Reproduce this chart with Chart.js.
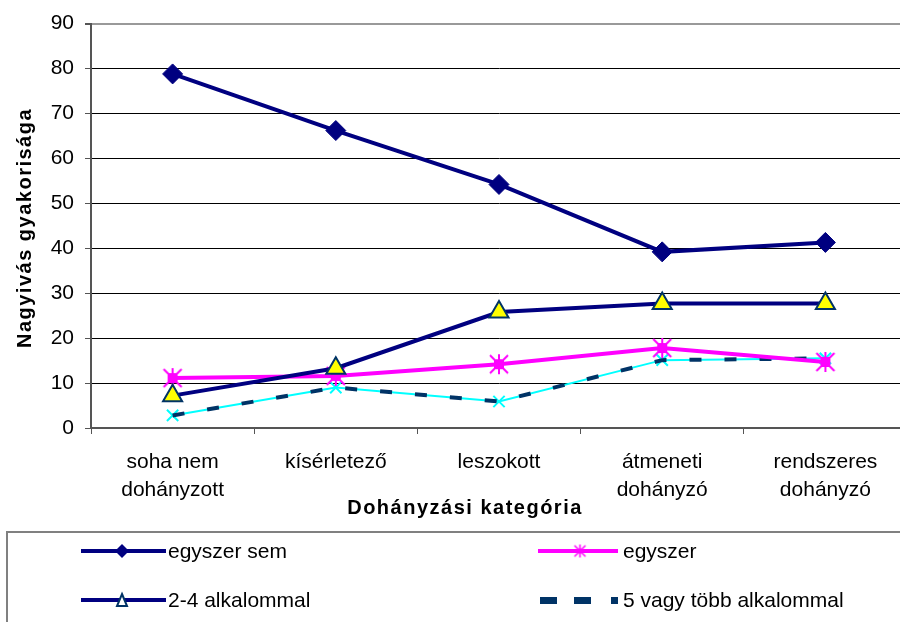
<!DOCTYPE html>
<html>
<head>
<meta charset="utf-8">
<script src="https://cdn.jsdelivr.net/npm/chart.js@4"></script>
<style>
    body { margin: 0; overflow: hidden; background: #fff; }
    #wrap { width: 920px; height: 622px; }
</style>
</head>
<body>
<div id="wrap"><canvas id="chart" width="920" height="622"></canvas></div>
<script>
// DATA
const categories = [['soha nem', 'dohányzott'], 'kísérletező', 'leszokott', ['átmeneti', 'dohányzó'], ['rendszeres', 'dohányzó']];
const seriesNames = ['egyszer sem', 'egyszer', '2-4 alkalommal', '5 vagy több alkalommal'];
const egyszerSem = [78.8, 66.2, 54.2, 39.2, 41.3];
const egyszer = [11.1, 11.6, 14.2, 17.8, 14.7];
const ketNegyAlk = [7.2, 13.3, 25.8, 27.7, 27.7];
const otVagyTobb = [2.8, 9.0, 5.9, 15.1, 15.5];
const yTicks = [0, 10, 20, 30, 40, 50, 60, 70, 80, 90];
const xTitle = 'Dohányzási kategória';
const yTitle = 'Nagyivás gyakorisága';

const FONT = '"Liberation Sans", Arial, sans-serif';
const NAVY = '#000080';
const MAGENTA = '#FF00FF';
const DARKBLUE = '#003366';
const CYAN = '#00FFFF';

// magenta star marker (square + rays)
const makeStar = (size, sq, lw) => {
    const c = document.createElement('canvas');
    c.width = size;
    c.height = size;
    const g = c.getContext('2d');
    const m = size / 2;
    g.fillStyle = MAGENTA;
    g.fillRect(m - sq / 2, m - sq / 2, sq, sq);
    g.strokeStyle = MAGENTA;
    g.lineWidth = lw;
    g.beginPath();
    g.moveTo(m, 1); g.lineTo(m, size - 1);
    g.moveTo(2, 2); g.lineTo(size - 2, size - 2);
    g.moveTo(size - 2, 2); g.lineTo(2, size - 2);
    g.stroke();
    return c;
}
const starBig = makeStar(22, 10, 2);
const starSmall = makeStar(15, 5, 1.5);

// axis titles + legend
const extrasPlugin = {
    id: 'extras',
    afterDraw(chart) {
        const ctx = chart.ctx;
        ctx.save();
        ctx.fillStyle = '#000';
        ctx.font = 'bold 20px ' + FONT;
        ctx.letterSpacing = '1.5px';
        ctx.textAlign = 'center';
        ctx.textBaseline = 'middle';
        ctx.fillText(xTitle, 465, 508);
        ctx.save();
        ctx.translate(25, 228);
        ctx.rotate(-Math.PI / 2);
        ctx.fillText(yTitle, 0, 0);
        ctx.restore();
        ctx.letterSpacing = '0px';

        // legend box
        ctx.strokeStyle = '#808080';
        ctx.lineWidth = 2;
        ctx.strokeRect(7, 532, 960, 120);

        ctx.font = '21px ' + FONT;
        ctx.textAlign = 'left';
        ctx.fillStyle = '#000';
        const r1 = 551, r2 = 600;

        // egyszer sem
        ctx.strokeStyle = NAVY;
        ctx.lineWidth = 4;
        ctx.beginPath(); ctx.moveTo(81, r1); ctx.lineTo(166, r1); ctx.stroke();
        ctx.fillStyle = NAVY;
        ctx.beginPath();
        ctx.moveTo(122, r1 - 7); ctx.lineTo(129, r1); ctx.lineTo(122, r1 + 7); ctx.lineTo(115, r1);
        ctx.closePath(); ctx.fill();
        ctx.fillStyle = '#000';
        ctx.fillText(seriesNames[0], 168, r1 + 1);

        // egyszer
        ctx.strokeStyle = MAGENTA;
        ctx.beginPath(); ctx.moveTo(538, r1); ctx.lineTo(618, r1); ctx.stroke();
        ctx.drawImage(starSmall, 580 - 7.5, r1 - 7.5);
        ctx.fillText(seriesNames[1], 623, r1 + 1);

        // 2-4 alkalommal
        ctx.strokeStyle = NAVY;
        ctx.beginPath(); ctx.moveTo(81, r2); ctx.lineTo(166, r2); ctx.stroke();
        ctx.fillStyle = '#fff';
        ctx.strokeStyle = DARKBLUE;
        ctx.lineWidth = 2;
        ctx.beginPath();
        ctx.moveTo(122, r2 - 6); ctx.lineTo(127, r2 + 6); ctx.lineTo(117, r2 + 6);
        ctx.closePath(); ctx.fill(); ctx.stroke();
        ctx.fillStyle = '#000';
        ctx.fillText(seriesNames[2], 168, r2 + 1);

        // 5 vagy több
        ctx.fillStyle = DARKBLUE;
        [[540, 17], [574, 17], [611, 7]].forEach(d => ctx.fillRect(d[0], r2 - 3, d[1], 7));
        ctx.fillStyle = '#000';
        ctx.fillText(seriesNames[3], 623, r2 + 1);
        ctx.restore();
    }
}

new Chart(document.getElementById('chart'), {
    type: 'line',
    data: {
        labels: categories,
        datasets: [
            {
                label: seriesNames[0],
                data: egyszerSem,
                borderColor: NAVY,
                backgroundColor: NAVY,
                borderWidth: 4,
                pointStyle: 'rectRot',
                pointRadius: 10,
                pointBorderWidth: 1,
                order: 1,
            },
            {
                label: seriesNames[2],
                data: ketNegyAlk,
                borderColor: NAVY,
                borderWidth: 4,
                pointStyle: 'triangle',
                pointRadius: 11,
                pointBackgroundColor: '#FFFF00',
                pointBorderColor: DARKBLUE,
                pointBorderWidth: 2,
                order: 2,
            },
            {
                label: seriesNames[1],
                data: egyszer,
                borderColor: MAGENTA,
                borderWidth: 4,
                pointStyle: starBig,
                order: 3,
            },
            {
                label: seriesNames[3],
                data: otVagyTobb,
                borderColor: DARKBLUE,
                borderWidth: 4,
                borderDash: [12, 23],
                pointRadius: 0,
                order: 4,
            },
            {
                label: '',
                data: otVagyTobb,
                borderColor: CYAN,
                borderWidth: 2,
                pointStyle: 'crossRot',
                pointRadius: 8,
                pointBorderWidth: 2,
                order: 5,
            },
        ]
    },
    options: {
        responsive: false,
        animation: false,
        events: [],
        layout: {
            padding: { top: 23, right: 9, left: 0, bottom: 0 }
        },
        plugins: {
            legend: { display: false },
            tooltip: { enabled: false },
        },
        elements: {
            line: { tension: 0 },
        },
        scales: {
            x: {
                offset: true,
                afterFit: (scale) => { scale.height = 194; },
                grid: {
                    offset: true,
                    drawOnChartArea: false,
                    drawTicks: true,
                    tickLength: 6,
                    color: '#555',
                },
                border: { color: '#555', width: 2 },
                ticks: {
                    color: '#000',
                    padding: 14,
                    maxRotation: 0,
                    autoSkip: false,
                    font: { family: FONT, size: 21, lineHeight: 1.34 },
                },
            },
            y: {
                min: 0,
                max: 90,
                afterFit: (scale) => { scale.width = 91; },
                afterBuildTicks: (scale) => { scale.ticks = yTicks.map(v => ({ value: v })); },
                grid: {
                    color: (c) => c.tick && c.tick.value === 90 ? '#999' : '#000',
                    lineWidth: (c) => c.tick && c.tick.value === 90 ? 2 : 1,
                    tickLength: 6,
                    tickColor: '#555',
                },
                border: { color: '#555', width: 2 },
                ticks: {
                    color: '#000',
                    padding: 11,
                    font: { family: FONT, size: 21 },
                },
            },
        },
    },
    plugins: [extrasPlugin],
});
</script>
</body>
</html>
